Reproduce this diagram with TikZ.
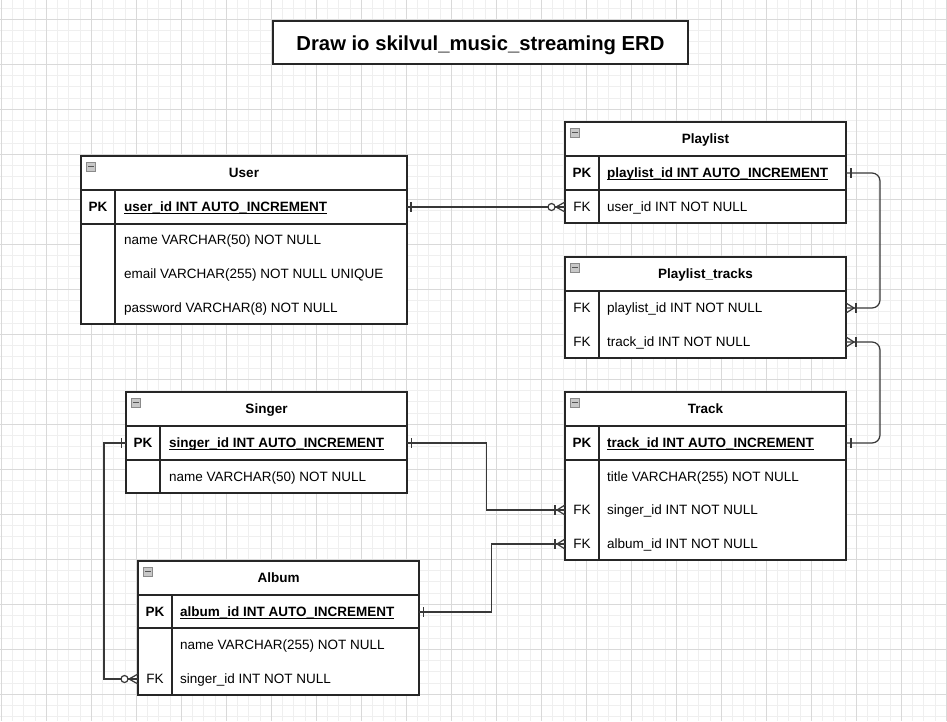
\documentclass[tikz,border=0pt]{standalone}
\usepackage{fontspec}
\setmainfont{Liberation Sans}
\definecolor{gridminor}{HTML}{EFEFEF}
\definecolor{gridmajor}{HTML}{D9D9D9}
\definecolor{iconfill}{HTML}{C8C8C8}
\definecolor{iconline}{HTML}{8A8A8A}
\definecolor{iconminus}{HTML}{555555}
\newsavebox\ulbox
\newcommand\ulk[1]{\sbox\ulbox{#1}\rlap{\rule[-2pt]{\wd\ulbox}{1.2pt}}\usebox\ulbox}
\tikzset{
  tbl/.style={draw=black!85, line width=1.3pt, fill=white, rectangle, inner sep=0pt, outer sep=0pt, anchor=north west},
  rowbox/.style={rectangle, inner sep=0pt, outer sep=0pt, minimum height=34pt},
  hdr/.style={font=\fontsize{13.5}{16}\selectfont\bfseries, inner sep=0pt, anchor=base},
  fld/.style={font=\fontsize{13.5}{16}\selectfont, inner sep=0pt, anchor=base west},
  fldb/.style={font=\fontsize{13.5}{16}\selectfont\bfseries, inner sep=0pt, anchor=base west},
  keyb/.style={font=\fontsize{13.5}{16}\selectfont\bfseries, inner sep=0pt, anchor=base},
  keyn/.style={font=\fontsize{13.5}{16}\selectfont, inner sep=0pt, anchor=base},
  sepline/.style={draw=black!85, line width=1.3pt},
  conn/.style={draw=black!78, line width=1.2pt},
  mk/.style={draw=black!78, line width=1.2pt},
  minorg/.style={draw=gridminor, line width=1pt},
  majorg/.style={draw=gridmajor, line width=1pt},
  onemk/.pic={\draw[mk] (0,-5) -- (0,5);},
  crowmk/.pic={\draw[mk] (0,-5) -- (-8,0) -- (0,5); \draw[mk] (-10,-5) -- (-10,5);},
  zmanymk/.pic={\draw[mk] (0,-5) -- (-9,0) -- (0,5); \draw[mk, fill=white] (-13.5,0) circle (3.5pt);},
  iconbox/.pic={\draw[draw=iconline, fill=iconfill, line width=0.8pt] (0,0) rectangle (9,9); \draw[draw=iconminus, line width=1.4pt] (1.8,4.5) -- (7.2,4.5);},
}
\begin{document}
\begin{tikzpicture}[x=1pt,y=-1pt]
\useasboundingbox (0,0) rectangle (947,721);
\fill[white] (0,0) rectangle (947,721);
% grid
\foreach \i in {0,...,84} \draw[minorg] ({1.25+11.25*\i},0) -- ({1.25+11.25*\i},721);
\foreach \i in {0,...,63} \draw[minorg] (0,{8+11.25*\i}) -- (947,{8+11.25*\i});
\foreach \i in {0,...,21} \draw[majorg] ({1.25+45*\i},0) -- ({1.25+45*\i},721);
\foreach \i in {0,...,15} \draw[majorg] (0,{19.25+45*\i}) -- (947,{19.25+45*\i});

% title
\node[tbl, minimum width=415pt, minimum height=43pt] (titlebox) at (273,21) {};
\node[font=\fontsize{20.25}{24}\selectfont\bfseries, inner sep=0pt, anchor=base] (titletext) at (480.5,50.2) {Draw io skilvul\_music\_streaming ERD};

% ---------- User ----------
\node[tbl, minimum width=326pt, minimum height=168pt] (user) at (81,156) {};
\draw[sepline] (81,190) -- (407,190);
\draw[sepline] (81,224) -- (407,224);
\draw[sepline] (115,190) -- (115,324);
\pic at (86.5,162) {iconbox};
\node[hdr] (userhd) at (244,177.8) {User};
\node[rowbox, minimum width=326pt] (userpk) at (244,207) {};
\node[keyb] (userpkk) at (98,211.8) {PK};
\node[fldb] (userpkt) at (124,211.8) {\ulk{user\_id INT AUTO\_INCREMENT}};
\node[fld] (username) at (124,244.8) {name VARCHAR(50) NOT NULL};
\node[fld] (useremail) at (124,278.8) {email VARCHAR(255) NOT NULL UNIQUE};
\node[fld] (userpw) at (124,312.8) {password VARCHAR(8) NOT NULL};

% ---------- Playlist ----------
\node[tbl, minimum width=281pt, minimum height=101pt] (playlist) at (565,122) {};
\draw[sepline] (565,156) -- (846,156);
\draw[sepline] (565,190) -- (846,190);
\draw[sepline] (599,156) -- (599,223);
\pic at (570.5,128) {iconbox};
\node[hdr] (plhd) at (705.5,143.8) {Playlist};
\node[rowbox, minimum width=281pt] (plpk) at (705.5,173) {};
\node[rowbox, minimum width=281pt] (plfk) at (705.5,207) {};
\node[keyb] (plpkk) at (582,177.8) {PK};
\node[fldb] (plpkt) at (607,177.8) {\ulk{playlist\_id INT AUTO\_INCREMENT}};
\node[keyn] (plfkk) at (582,211.8) {FK};
\node[fld] (plfkt) at (607,211.8) {user\_id INT NOT NULL};

% ---------- Playlist_tracks ----------
\node[tbl, minimum width=281pt, minimum height=101pt] (pltracks) at (565,257) {};
\draw[sepline] (565,291) -- (846,291);
\draw[sepline] (599,291) -- (599,358);
\pic at (570.5,263) {iconbox};
\node[hdr] (pthd) at (705.5,278.8) {Playlist\_tracks};
\node[rowbox, minimum width=281pt] (ptpl) at (705.5,308) {};
\node[rowbox, minimum width=281pt] (pttr) at (705.5,342) {};
\node[keyn] (ptplk) at (582,312.8) {FK};
\node[fld] (ptplt) at (607,312.8) {playlist\_id INT NOT NULL};
\node[keyn] (pttrk) at (582,346.8) {FK};
\node[fld] (pttrt) at (607,346.8) {track\_id INT NOT NULL};

% ---------- Track ----------
\node[tbl, minimum width=281pt, minimum height=168pt] (track) at (565,392) {};
\draw[sepline] (565,426) -- (846,426);
\draw[sepline] (565,460) -- (846,460);
\draw[sepline] (599,426) -- (599,560);
\pic at (570.5,398) {iconbox};
\node[hdr] (trhd) at (705.5,413.8) {Track};
\node[rowbox, minimum width=281pt] (trpk) at (705.5,443) {};
\node[rowbox, minimum width=281pt] (trsg) at (705.5,510) {};
\node[rowbox, minimum width=281pt] (tral) at (705.5,544) {};
\node[keyb] (trpkk) at (582,447.8) {PK};
\node[fldb] (trpkt) at (607,447.8) {\ulk{track\_id INT AUTO\_INCREMENT}};
\node[fld] (trtitle) at (607,481.8) {title VARCHAR(255) NOT NULL};
\node[keyn] (trsgk) at (582,514.8) {FK};
\node[fld] (trsgt) at (607,514.8) {singer\_id INT NOT NULL};
\node[keyn] (tralk) at (582,548.8) {FK};
\node[fld] (tralt) at (607,548.8) {album\_id INT NOT NULL};

% ---------- Singer ----------
\node[tbl, minimum width=281pt, minimum height=101pt] (singer) at (126,392) {};
\draw[sepline] (126,426) -- (407,426);
\draw[sepline] (126,460) -- (407,460);
\draw[sepline] (160,426) -- (160,493);
\pic at (131.5,398) {iconbox};
\node[hdr] (sghd) at (266.5,413.8) {Singer};
\node[rowbox, minimum width=281pt] (sgpk) at (266.5,443) {};
\node[keyb] (sgpkk) at (143,447.8) {PK};
\node[fldb] (sgpkt) at (169,447.8) {\ulk{singer\_id INT AUTO\_INCREMENT}};
\node[fld] (sgname) at (169,481.8) {name VARCHAR(50) NOT NULL};

% ---------- Album ----------
\node[tbl, minimum width=281pt, minimum height=134pt] (album) at (138,561) {};
\draw[sepline] (138,595) -- (419,595);
\draw[sepline] (138,628) -- (419,628);
\draw[sepline] (172,595) -- (172,695);
\pic at (143.5,567) {iconbox};
\node[hdr] (alhd) at (278.5,582.8) {Album};
\node[rowbox, minimum width=281pt] (alpk) at (278.5,612) {};
\node[rowbox, minimum width=281pt] (alsg) at (278.5,679) {};
\node[keyb] (alpkk) at (155,616.8) {PK};
\node[fldb] (alpkt) at (180,616.8) {\ulk{album\_id INT AUTO\_INCREMENT}};
\node[fld] (alname) at (180,649.8) {name VARCHAR(255) NOT NULL};
\node[keyn] (alsgk) at (155,683.8) {FK};
\node[fld] (alsgt) at (180,683.8) {singer\_id INT NOT NULL};

% ---------- connectors ----------
\draw[conn] (userpk.east) -- (plfk.west);
\pic at ([xshift=4pt]userpk.east) {onemk};
\pic at (plfk.west) {zmanymk};

\draw[conn, rounded corners=8pt] (plpk.east) -- ++(34,0) |- (ptpl.east);
\pic at ([xshift=5pt]plpk.east) {onemk};
\pic[xscale=-1] at (ptpl.east) {crowmk};

\draw[conn, rounded corners=8pt] (trpk.east) -- ++(34,0) |- (pttr.east);
\pic at ([xshift=5pt]trpk.east) {onemk};
\pic[xscale=-1] at (pttr.east) {crowmk};

\draw[conn] (sgpk.east) -- ++(79.5,0) |- (trsg.west);
\pic at ([xshift=4.5pt]sgpk.east) {onemk};
\pic at (trsg.west) {crowmk};

\draw[conn] (alpk.east) -- ++(72.5,0) |- (tral.west);
\pic at ([xshift=4.5pt]alpk.east) {onemk};
\pic at (tral.west) {crowmk};

\draw[conn] (sgpk.west) -- ++(-22,0) |- (alsg.west);
\pic at ([xshift=-4.5pt]sgpk.west) {onemk};
\pic at (alsg.west) {zmanymk};
\end{tikzpicture}
\end{document}
